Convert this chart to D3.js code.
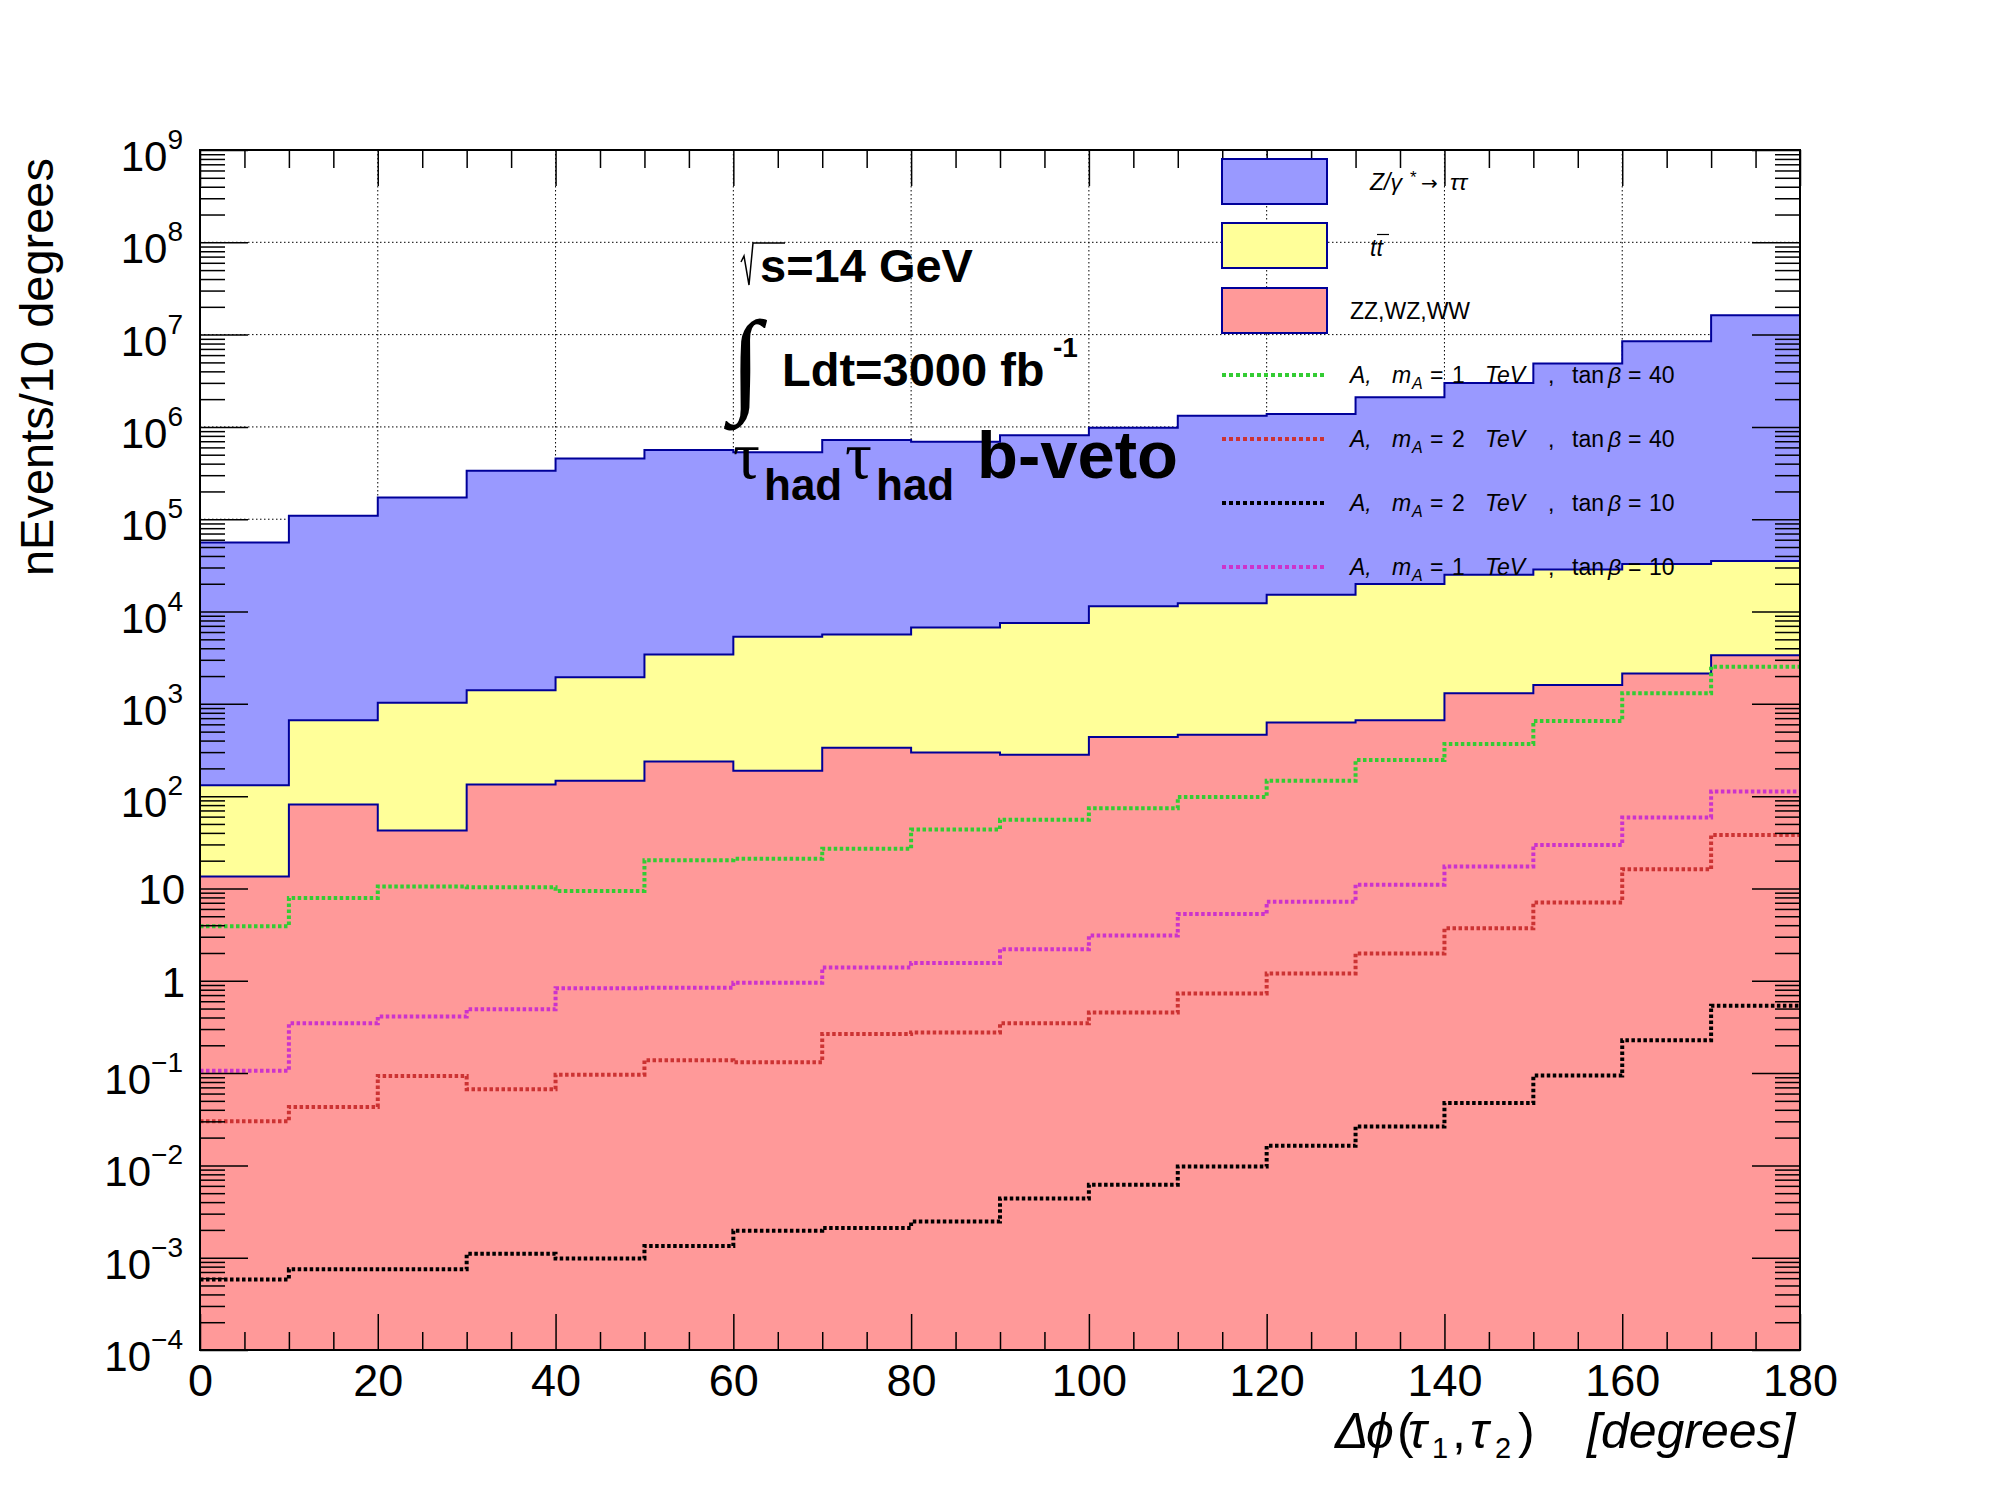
<!DOCTYPE html>
<meta charset="utf-8">
<style>
body { margin: 0; background: #fff; }
text { font-family: "Liberation Sans", Arial, sans-serif; fill: #000; }
.grid line { stroke: #000; stroke-width: 1; stroke-dasharray: 1.5,2.5; }
.ticks path.domain { display: none; }
.ticks line { stroke: #000; stroke-width: 1.5; }
.ticks text { font-size: 45px; }
</style>
<body>
<script src="https://cdn.jsdelivr.net/npm/d3@7"></script>
<script>

// bin low edges, 10 degree bins
var binLow = [0, 10, 20, 30, 40, 50, 60, 70, 80, 90, 100, 110, 120, 130, 140, 150, 160, 170];

// backgrounds (stacked)
var zTautau = [55900, 108300, 171000, 334600, 453100, 558600, 524700, 714400, 683300,
               802500, 968600, 1307700, 1364800, 2080100, 2975000, 4831400, 8417300, 16164700];
var ttbar   = [118, 584, 988, 1266, 1793, 3193, 5132, 5306, 6402,
               7219, 10963, 11838, 14572, 19235, 23700, 27000, 30570, 31930];
var diboson = [13.5, 81, 42.5, 134, 147, 237, 188, 334, 298,
               281, 437, 462, 628, 665, 1300, 1600, 2130, 3370];

// signals
var sigM1Tb40 = [3.9, 7.9, 10.5, 10.3, 9.4, 20.2, 21, 26.9, 43.4,
                 55.6, 74, 98, 147, 246, 368, 652, 1300, 2530];
var sigM2Tb40 = [0.030, 0.043, 0.093, 0.067, 0.096, 0.138, 0.131, 0.265, 0.275,
                 0.346, 0.452, 0.73, 1.20, 1.97, 3.7, 7.06, 16.1, 37.9];
var sigM2Tb10 = [0.00058, 0.00075, 0.00075, 0.0011, 0.00098, 0.00134, 0.00196, 0.0021, 0.00246,
                 0.00437, 0.00615, 0.0097, 0.0163, 0.0263, 0.0475, 0.094, 0.227, 0.537];
var sigM1Tb10 = [0.106, 0.346, 0.41, 0.49, 0.83, 0.84, 0.95, 1.39, 1.56,
                 2.2, 3.1, 5.3, 7.2, 11.0, 17.3, 29.6, 58.8, 112];

var signals = [
  {values: sigM1Tb40, mass: 1, tanb: 40, color: "#33cc33"},
  {values: sigM2Tb40, mass: 2, tanb: 40, color: "#cc3333"},
  {values: sigM2Tb10, mass: 2, tanb: 10, color: "#000000"},
  {values: sigM1Tb10, mass: 1, tanb: 10, color: "#cc33cc"}
];

var xMajor = [0, 20, 40, 60, 80, 100, 120, 140, 160, 180];
var xMinor = [5, 10, 15, 25, 30, 35, 45, 50, 55, 65, 70, 75, 85, 90, 95, 105, 110, 115,
              125, 130, 135, 145, 150, 155, 165, 170, 175];
var yDecades = [1e-4, 1e-3, 1e-2, 1e-1, 1, 10, 1e2, 1e3, 1e4, 1e5, 1e6, 1e7, 1e8, 1e9];

var width = 2000, height = 1500;
var pLeft = 200, pRight = 1800, pTop = 150, pBottom = 1350;

var svg = d3.select("body").append("svg")
    .attr("width", width)
    .attr("height", height);

svg.append("rect").attr("width", width).attr("height", height).attr("fill", "#fff");

var x = d3.scaleLinear().domain([0, 180]).range([pLeft, pRight]);
var y = d3.scaleLog().domain([1e-4, 1e9]).range([pBottom, pTop]).clamp(true);

// minor ticks on log axis: 2..9 x 10^n
var yMinor = [];
yDecades.slice(0, -1).forEach(function(d) {
  for (var k = 2; k <= 9; k++) yMinor.push(d * k);
});

// grid
var grid = svg.append("g").attr("class", "grid");
grid.selectAll(".gx").data(xMajor.slice(1, -1)).enter().append("line")
    .attr("x1", function(d) { return x(d); }).attr("x2", function(d) { return x(d); })
    .attr("y1", pTop).attr("y2", pBottom);
grid.selectAll(".gy").data(yDecades.slice(1, -1)).enter().append("line")
    .attr("x1", pLeft).attr("x2", pRight)
    .attr("y1", function(d) { return y(d); }).attr("y2", function(d) { return y(d); });

// stacked backgrounds
var rows = binLow.map(function(b, i) {
  return {low: b, vv: diboson[i], tt: ttbar[i], z: zTautau[i]};
});
rows.push({low: 180, vv: diboson[17], tt: ttbar[17], z: zTautau[17]});

var stack = d3.stack().keys(["vv", "tt", "z"]);
var layers = stack(rows);
var fills = {vv: "#ff9999", tt: "#ffff99", z: "#9999ff"};

var area = d3.area()
    .curve(d3.curveStepAfter)
    .x(function(d) { return x(d.data.low); })
    .y0(function(d) { return y(Math.max(d[0], 1e-4)); })
    .y1(function(d) { return y(d[1]); });

var topLine = d3.line()
    .curve(d3.curveStepAfter)
    .x(function(d) { return x(d.data.low); })
    .y(function(d) { return y(d[1]); });

svg.append("g").selectAll("path").data(layers).enter().append("path")
    .attr("d", area)
    .attr("fill", function(d) { return fills[d.key]; });

svg.append("g").selectAll("path").data(layers).enter().append("path")
    .attr("d", topLine)
    .attr("fill", "none")
    .attr("stroke", "#000099")
    .attr("stroke-width", 2);

// signals
var sigLine = d3.line()
    .curve(d3.curveStepAfter)
    .x(function(d) { return x(d[0]); })
    .y(function(d) { return y(d[1]); });

svg.append("g").selectAll("path").data(signals).enter().append("path")
    .attr("d", function(s) {
      var pts = binLow.map(function(b, i) { return [b, s.values[i]]; });
      pts.push([180, s.values[17]]);
      return sigLine(pts);
    })
    .attr("fill", "none")
    .attr("stroke", function(s) { return s.color; })
    .attr("stroke-width", 4)
    .attr("stroke-dasharray", "3.5,2.5");

// axes ticks (inside ticks, both sides)
function ticks(axis, tx, ty) {
  return svg.append("g").attr("class", "ticks")
      .attr("transform", "translate(" + tx + "," + ty + ")")
      .call(axis);
}
ticks(d3.axisBottom(x).tickValues(xMajor).tickSize(-36).tickPadding(14).tickFormat(d3.format("d")), 0, pBottom);
ticks(d3.axisBottom(x).tickValues(xMinor).tickSize(-18).tickFormat(""), 0, pBottom);
ticks(d3.axisTop(x).tickValues(xMajor).tickSize(-36).tickFormat(""), 0, pTop);
ticks(d3.axisTop(x).tickValues(xMinor).tickSize(-18).tickFormat(""), 0, pTop);
ticks(d3.axisLeft(y).tickValues(yDecades).tickSize(-48).tickFormat(""), pLeft, 0);
ticks(d3.axisLeft(y).tickValues(yMinor).tickSize(-25).tickFormat(""), pLeft, 0);
ticks(d3.axisRight(y).tickValues(yDecades).tickSize(-48).tickFormat(""), pRight, 0);
ticks(d3.axisRight(y).tickValues(yMinor).tickSize(-25).tickFormat(""), pRight, 0);

svg.selectAll(".ticks text").attr("dy", "0.72em");

// frame
svg.append("rect")
    .attr("x", pLeft).attr("y", pTop)
    .attr("width", pRight - pLeft).attr("height", pBottom - pTop)
    .attr("fill", "none").attr("stroke", "#000").attr("stroke-width", 2);

// y tick labels: 10^n
var ylab = svg.append("g").selectAll("text").data(yDecades).enter().append("text")
    .attr("text-anchor", "end")
    .style("font-size", "42px");
ylab.each(function(d) {
  var e = Math.round(Math.log10(d));
  var t = d3.select(this);
  if (e === 0 || e === 1) {
    t.attr("x", 185).attr("y", y(d) + 16).text(e === 0 ? "1" : "10");
  } else {
    t.attr("x", 183).attr("y", y(d) + 21);
    t.append("tspan").text("10");
    t.append("tspan").attr("dy", -22).style("font-size", "28px")
        .text(e < 0 ? "\u2212" + (-e) : String(e));
  }
});

// axis titles
svg.append("text")
    .attr("transform", "translate(53,158) rotate(-90)")
    .attr("text-anchor", "end")
    .style("font-size", "47px")
    .text("nEvents/10 degrees");

var xt = svg.append("text").attr("y", 1448).style("font-size", "50px");
xt.append("tspan").attr("x", 1335).style("font-style", "italic").text("\u0394");
xt.append("tspan").attr("x", 1366).style("font-style", "italic").text("\u03d5");
xt.append("tspan").attr("x", 1397).text("(");
xt.append("tspan").attr("x", 1408).style("font-style", "italic").text("\u03c4");
xt.append("tspan").attr("x", 1432).attr("dy", 10).style("font-size", "29px").text("1");
xt.append("tspan").attr("x", 1452).attr("dy", -10).text(",");
xt.append("tspan").attr("x", 1470).style("font-style", "italic").text("\u03c4");
xt.append("tspan").attr("x", 1495).attr("dy", 10).style("font-size", "29px").text("2");
xt.append("tspan").attr("x", 1518).attr("dy", -10).text(")");
xt.append("tspan").attr("x", 1587).style("font-style", "italic").text("[degrees]");

// legend
var legX = 1222, legW = 105, legTextX = 1350;
var legY = [181.5, 245.5, 310.5, 375, 439, 503, 567];
var boxKeys = ["z", "tt", "vv"];

svg.append("g").selectAll("rect").data(boxKeys).enter().append("rect")
    .attr("x", legX).attr("width", legW)
    .attr("y", function(d, i) { return legY[i] - 22.5; }).attr("height", 45)
    .attr("fill", function(d) { return fills[d]; })
    .attr("stroke", "#000099").attr("stroke-width", 2);

var lz = svg.append("text").attr("y", legY[0] + 8).style("font-size", "23px").style("font-style", "italic");
lz.append("tspan").attr("x", 1370).text("Z/\u03b3");
lz.append("tspan").attr("x", 1410).attr("dy", -7).style("font-size", "17px").style("font-style", "normal").text("*");
lz.append("tspan").attr("x", 1421).attr("dy", 7).style("font-style", "normal")
    .style("font-family", "'DejaVu Sans', sans-serif").style("font-size", "20px").text("\u2192");
lz.append("tspan").attr("x", 1450).text("\u03c4\u03c4");

svg.append("text").attr("x", 1370).attr("y", legY[1] + 10)
    .style("font-size", "23px").style("font-style", "italic").text("tt");
svg.append("line")
    .attr("x1", 1377).attr("x2", 1389).attr("y1", legY[1] - 11).attr("y2", legY[1] - 11)
    .attr("stroke", "#000").attr("stroke-width", 1.2);

svg.append("text").attr("x", legTextX).attr("y", legY[2] + 8)
    .style("font-size", "23px").text("ZZ,WZ,WW");

var legSig = svg.append("g").selectAll("g").data(signals).enter().append("g")
    .attr("transform", function(d, i) { return "translate(0," + legY[i + 3] + ")"; });
legSig.append("line")
    .attr("x1", legX).attr("x2", legX + legW)
    .attr("stroke", function(d) { return d.color; })
    .attr("stroke-width", 4).attr("stroke-dasharray", "4,3");
legSig.each(function(d) {
  var t = d3.select(this).append("text").attr("y", 8).style("font-size", "23px");
  t.append("tspan").attr("x", legTextX).style("font-style", "italic").text("A,");
  t.append("tspan").attr("x", legTextX + 42).style("font-style", "italic").text("m");
  t.append("tspan").attr("x", legTextX + 62).attr("dy", 6).style("font-style", "italic")
      .style("font-size", "16px").text("A");
  t.append("tspan").attr("x", legTextX + 80).attr("dy", -6).text("=");
  t.append("tspan").attr("x", legTextX + 102).text(d.mass);
  t.append("tspan").attr("x", legTextX + 135).style("font-style", "italic").text("TeV");
  t.append("tspan").attr("x", legTextX + 198).text(",");
  t.append("tspan").attr("x", legTextX + 222).text("tan");
  t.append("tspan").attr("x", legTextX + 258).style("font-style", "italic").text("\u03b2");
  t.append("tspan").attr("x", legTextX + 278).text("=");
  t.append("tspan").attr("x", legTextX + 299).text(d.tanb);
});

// annotations
var ann = svg.append("g").style("font-weight", "bold");
ann.append("path")
    .attr("d", "M741,262 L744,256 L749,285 L753,243 L785,243")
    .attr("fill", "none").attr("stroke", "#000").attr("stroke-width", 1.5);
ann.append("text").attr("x", 760).attr("y", 282).style("font-size", "47px").text("s=14 GeV");

ann.append("text").attr("x", 730).attr("y", 400)
    .style("font-family", "'Liberation Serif', serif").style("font-weight", "normal")
    .style("font-size", "114px").text("\u222b");
ann.append("text").attr("x", 782).attr("y", 386).style("font-size", "47px").text("Ldt=3000 fb");
ann.append("text").attr("x", 1053).attr("y", 357).style("font-size", "28px").text("-1");

var tau = ann.append("text").attr("x", 733).attr("y", 478).style("font-size", "67px");
tau.append("tspan").style("font-family", "'Liberation Serif', serif").style("font-weight", "normal").text("\u03c4");
tau.append("tspan").attr("x", 764).attr("dy", 22).style("font-size", "44px").text("had");
tau.append("tspan").attr("x", 845).attr("dy", -22)
    .style("font-family", "'Liberation Serif', serif").style("font-weight", "normal").text("\u03c4");
tau.append("tspan").attr("x", 876).attr("dy", 22).style("font-size", "44px").text("had");
tau.append("tspan").attr("x", 977).attr("dy", -22).text("b-veto");

</script>
